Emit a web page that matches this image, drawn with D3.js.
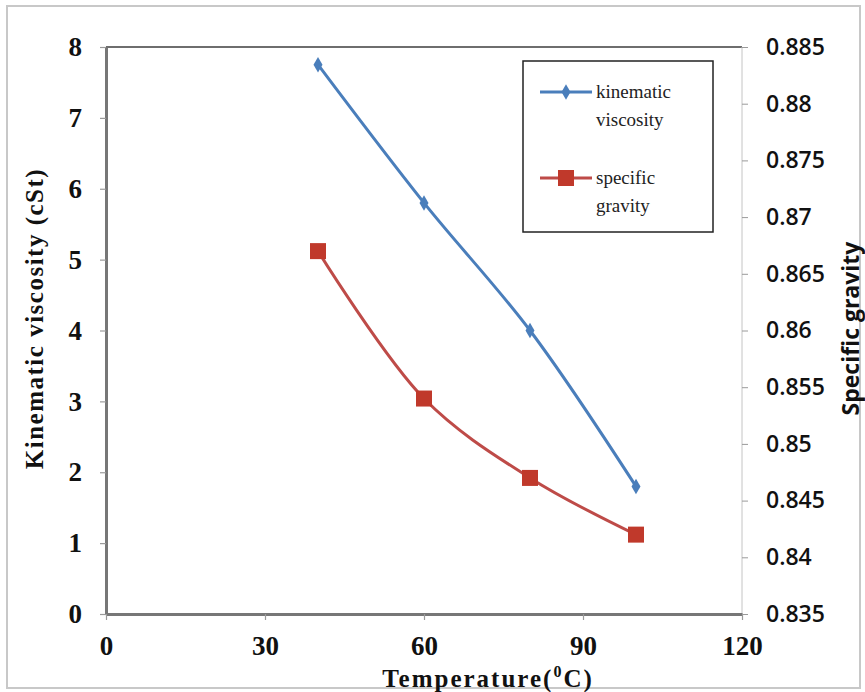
<!DOCTYPE html>
<html>
<head>
<meta charset="utf-8">
<script src="https://cdn.jsdelivr.net/npm/d3@7"></script>
<style>
  body { margin: 0; background: #fff; }
  svg { display: block; }
</style>
</head>
<body>
<div id="chart"></div>
<script>
// --- data
const temperatures = [40, 60, 80, 100];
const viscosity = [7.75, 5.8, 4.0, 1.8];
const gravity = [0.867, 0.854, 0.847, 0.842];
const xTicks = [0, 30, 60, 90, 120];
const yLeftTicks = [0, 1, 2, 3, 4, 5, 6, 7, 8];
const yRightTicks = [0.835, 0.84, 0.845, 0.85, 0.855, 0.86, 0.865, 0.87, 0.875, 0.88, 0.885];

// --- dimensions
const width = 865;
const height = 692;
const margin = { top: 47, right: 123, bottom: 78, left: 106 };

const serif = '"Liberation Serif", "Times New Roman", serif';
const sans = '"Open Sans", "Liberation Sans", sans-serif';

// --- scales
const x = d3.scaleLinear().domain([0, 120]).range([margin.left, width - margin.right]);
const yL = d3.scaleLinear().domain([0, 8]).range([height - margin.bottom, margin.top]);
const yR = d3.scaleLinear().domain([0.835, 0.885]).range([height - margin.bottom, margin.top]);

const svg = d3.select('#chart')
  .append('svg')
  .attr('width', width)
  .attr('height', height);

// outer frame
svg.append('rect')
  .attr('x', 7).attr('y', 6)
  .attr('width', width - 12).attr('height', height - 10)
  .attr('fill', 'none')
  .attr('stroke', '#c8c8c8')
  .attr('stroke-width', 2);

// plot border top / right
svg.append('line')
  .attr('x1', x(0)).attr('x2', x(120))
  .attr('y1', yL(8)).attr('y2', yL(8))
  .attr('stroke', '#6e6e6e').attr('stroke-width', 2);
svg.append('line')
  .attr('x1', x(120)).attr('x2', x(120))
  .attr('y1', yL(8)).attr('y2', yL(0))
  .attr('stroke', '#c4c4c4').attr('stroke-width', 1);

// --- axes
const styleAxis = (g, color, w) => {
  g.select('.domain').attr('stroke', color).attr('stroke-width', w);
  g.selectAll('.tick line').attr('stroke', '#9a9a9a').attr('stroke-width', 1.2);
};

// right axis
const gR = svg.append('g')
  .attr('transform', `translate(${x(120)},0)`)
  .call(d3.axisRight(yR).tickValues(yRightTicks).tickSize(6).tickPadding(18)
    .tickFormat(d => d3.format('.3~f')(d)));
gR.select('.domain').remove();
gR.selectAll('.tick line').attr('stroke', '#9a9a9a');
gR.selectAll('.tick text')
  .attr('font-family', sans)
  .attr('font-weight', 600)
  .attr('font-size', 23)
  .attr('fill', '#111');

// left axis
const gL = svg.append('g')
  .attr('transform', `translate(${x(0)},0)`)
  .call(d3.axisLeft(yL).tickValues(yLeftTicks).tickSize(6).tickPadding(18).tickSizeOuter(0));
styleAxis(gL, '#777', 3);
gL.selectAll('.tick text')
  .attr('font-family', serif)
  .attr('font-weight', 'bold')
  .attr('font-size', 27)
  .attr('fill', '#111');

// bottom axis
const gB = svg.append('g')
  .attr('transform', `translate(0,${yL(0)})`)
  .call(d3.axisBottom(x).tickValues(xTicks).tickSize(6).tickPadding(16).tickSizeOuter(0));
styleAxis(gB, '#777', 3);
gB.selectAll('.tick text')
  .attr('font-family', serif)
  .attr('font-weight', 'bold')
  .attr('font-size', 27)
  .attr('fill', '#111');

// --- axis titles
svg.append('text')
  .attr('transform', `translate(43,${(yL(0) + yL(8)) / 2 - 12}) rotate(-90)`)
  .attr('text-anchor', 'middle')
  .attr('font-family', serif)
  .attr('font-weight', 'bold')
  .attr('font-size', 25)
  .attr('letter-spacing', 1.5)
  .attr('fill', '#111')
  .text('Kinematic viscosity (cSt)');

svg.append('text')
  .attr('x', 488).attr('y', 687)
  .attr('text-anchor', 'middle')
  .attr('font-family', serif)
  .attr('font-weight', 'bold')
  .attr('font-size', 25)
  .attr('letter-spacing', 2)
  .attr('fill', '#111')
  .text('Temperature(')
  .call(t => t.append('tspan').attr('font-size', 16).attr('dy', -10).text('0'))
  .call(t => t.append('tspan').attr('dy', 10).text('C)'));

svg.append('text')
  .attr('transform', `translate(859,${(yL(0) + yL(8)) / 2 - 2}) rotate(-90)`)
  .attr('text-anchor', 'middle')
  .attr('font-family', sans)
  .attr('font-weight', 'bold')
  .attr('font-size', 23)
  .attr('fill', '#111')
  .text('Specific gravity');

// --- lines
const viscData = temperatures.map((t, i) => ({ t, v: viscosity[i] }));
const gravData = temperatures.map((t, i) => ({ t, v: gravity[i] }));

const lineL = d3.line().x(d => x(d.t)).y(d => yL(d.v)).curve(d3.curveCatmullRom.alpha(0.5));
const lineR = d3.line().x(d => x(d.t)).y(d => yR(d.v)).curve(d3.curveCatmullRom.alpha(0.5));

const blue = '#4a7ebb';
const red = '#be4b48';

svg.append('path')
  .datum(viscData)
  .attr('d', lineL)
  .attr('fill', 'none')
  .attr('stroke', blue)
  .attr('stroke-width', 3);

svg.append('path')
  .datum(gravData)
  .attr('d', lineR)
  .attr('fill', 'none')
  .attr('stroke', red)
  .attr('stroke-width', 3);

const diamond = d3.symbol().type(d3.symbolDiamond).size(70);

svg.selectAll('.visc-marker')
  .data(viscData)
  .join('path')
    .attr('class', 'visc-marker')
    .attr('d', diamond)
    .attr('transform', d => `translate(${x(d.t)},${yL(d.v)})`)
    .attr('fill', blue);

svg.selectAll('.grav-marker')
  .data(gravData)
  .join('rect')
    .attr('class', 'grav-marker')
    .attr('x', d => x(d.t) - 8)
    .attr('y', d => yR(d.v) - 8)
    .attr('width', 16)
    .attr('height', 16)
    .attr('fill', '#c0392b');

// --- legend
const legend = svg.append('g');
legend.append('rect')
  .attr('x', 523).attr('y', 61)
  .attr('width', 190).attr('height', 171)
  .attr('fill', '#fff')
  .attr('stroke', '#222')
  .attr('stroke-width', 1.5);

const legendItems = [
  { label: ['kinematic', 'viscosity'], color: blue, y: 92, marker: 'diamond' },
  { label: ['specific', 'gravity'], color: red, y: 178, marker: 'square' }
];

legendItems.forEach(item => {
  legend.append('line')
    .attr('x1', 540).attr('x2', 592)
    .attr('y1', item.y).attr('y2', item.y)
    .attr('stroke', item.color).attr('stroke-width', 3);
  if (item.marker === 'diamond') {
    legend.append('path')
      .attr('d', diamond)
      .attr('transform', `translate(566,${item.y})`)
      .attr('fill', item.color);
  } else {
    legend.append('rect')
      .attr('x', 558).attr('y', item.y - 8)
      .attr('width', 16).attr('height', 16)
      .attr('fill', '#c0392b');
  }
  item.label.forEach((l, i) => {
    legend.append('text')
      .attr('x', 596).attr('y', item.y + 6 + i * 28)
      .attr('font-family', serif)
      .attr('font-size', 19)
      .attr('fill', '#222')
      .text(l);
  });
});
</script>
</body>
</html>
